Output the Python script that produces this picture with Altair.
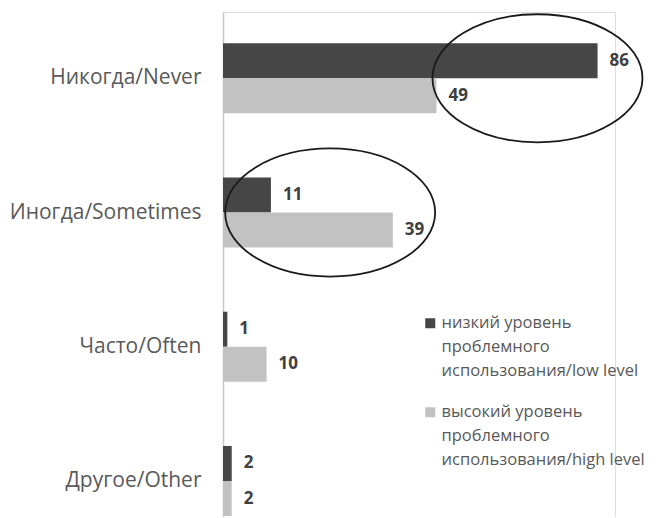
import altair as alt
import pandas as pd

categories = ["Никогда/Never", "Иногда/Sometimes", "Часто/Often", "Другое/Other"]
series_names = [
    "низкий уровень проблемного использования/low level",
    "высокий уровень проблемного использования/high level",
]
legend_lines = [
    ["низкий уровень", "проблемного", "использования/low level"],
    ["высокий уровень", "проблемного", "использования/high level"],
]
low_values = [86, 11, 1, 2]
high_values = [49, 39, 10, 2]
series_colors = ["#464646", "#c2c2c2"]

# highlighted groups (ellipse centers in data units)
ellipse_categories = ["Никогда/Never", "Иногда/Sometimes"]
ellipse_centers = [72.2, 24.6]

rows = []
for c, lo, hi in zip(categories, low_values, high_values):
    rows.append({"category": c, "series": series_names[0], "value": lo})
    rows.append({"category": c, "series": series_names[1], "value": hi})
df = pd.DataFrame(rows)
ell = pd.DataFrame({"category": ellipse_categories, "x": ellipse_centers})

label_expr = (
    f"datum.label == '{series_names[0]}' ? {legend_lines[0]!r} : {legend_lines[1]!r}"
)

yscale = alt.Scale(domain=categories, paddingInner=0.478, paddingOuter=0.12, align=0.97)
xscale = alt.Scale(domain=[0, 90], nice=False, zero=True)

base = alt.Chart(df)

bars = base.mark_bar().encode(
    y=alt.Y("category:N", sort=categories, scale=yscale,
            axis=alt.Axis(title=None, ticks=False, labelPadding=22, labelFontSize=21,
                          labelColor="#595959", labelFont="Open Sans",
                          domainColor="#c8c8c8", domainWidth=1.5, grid=False, labelLimit=0)),
    yOffset=alt.YOffset("series:N", sort=series_names),
    x=alt.X("value:Q", scale=xscale, axis=None),
    color=alt.Color("series:N", sort=series_names,
                    scale=alt.Scale(domain=series_names, range=series_colors),
                    legend=alt.Legend(title=None, orient="none", legendX=199, legendY=303,
                                      symbolType="square", symbolSize=100, symbolStrokeWidth=0,
                                      labelFontSize=16.5, labelColor="#595959", labelFont="Open Sans",
                                      labelLimit=0, rowPadding=24, padding=0, labelOffset=3,
                                      labelExpr=label_expr)),
)

texts = base.mark_text(align="left", baseline="middle", dx=12, fontSize=17,
                       fontWeight="bold", color="#404040", font="Open Sans").encode(
    y=alt.Y("category:N", sort=categories, scale=yscale),
    yOffset=alt.YOffset("series:N", sort=series_names),
    x=alt.X("value:Q", scale=xscale),
    text=alt.Text("value:Q"),
)

k = 0.5523
b = 0.61
ellipse_path = (
    f"M -1 0 C -1 {-k*b} {-k} {-b} 0 {-b} "
    f"C {k} {-b} 1 {-k*b} 1 0 "
    f"C 1 {k*b} {k} {b} 0 {b} "
    f"C {-k} {b} -1 {k*b} -1 0 Z"
)

ellipses = alt.Chart(ell).mark_point(shape=ellipse_path, filled=False, stroke="#1a1a1a",
                                     strokeWidth=1.8, size=210 * 210, opacity=1).encode(
    y=alt.Y("category:N", sort=categories, scale=yscale),
    x=alt.X("x:Q", scale=xscale),
)

chart = alt.layer(bars, texts, ellipses).properties(
    width=392, height=505,
    autosize=alt.AutoSizeParams(type="none"),
    padding={"left": 215, "top": 4, "right": 33, "bottom": 0},
).configure_view(stroke=None).configure(style={"guide-label": {"lineHeight": 24}})

chart.save("out.html", embed_options={"renderer": "svg", "actions": False})
